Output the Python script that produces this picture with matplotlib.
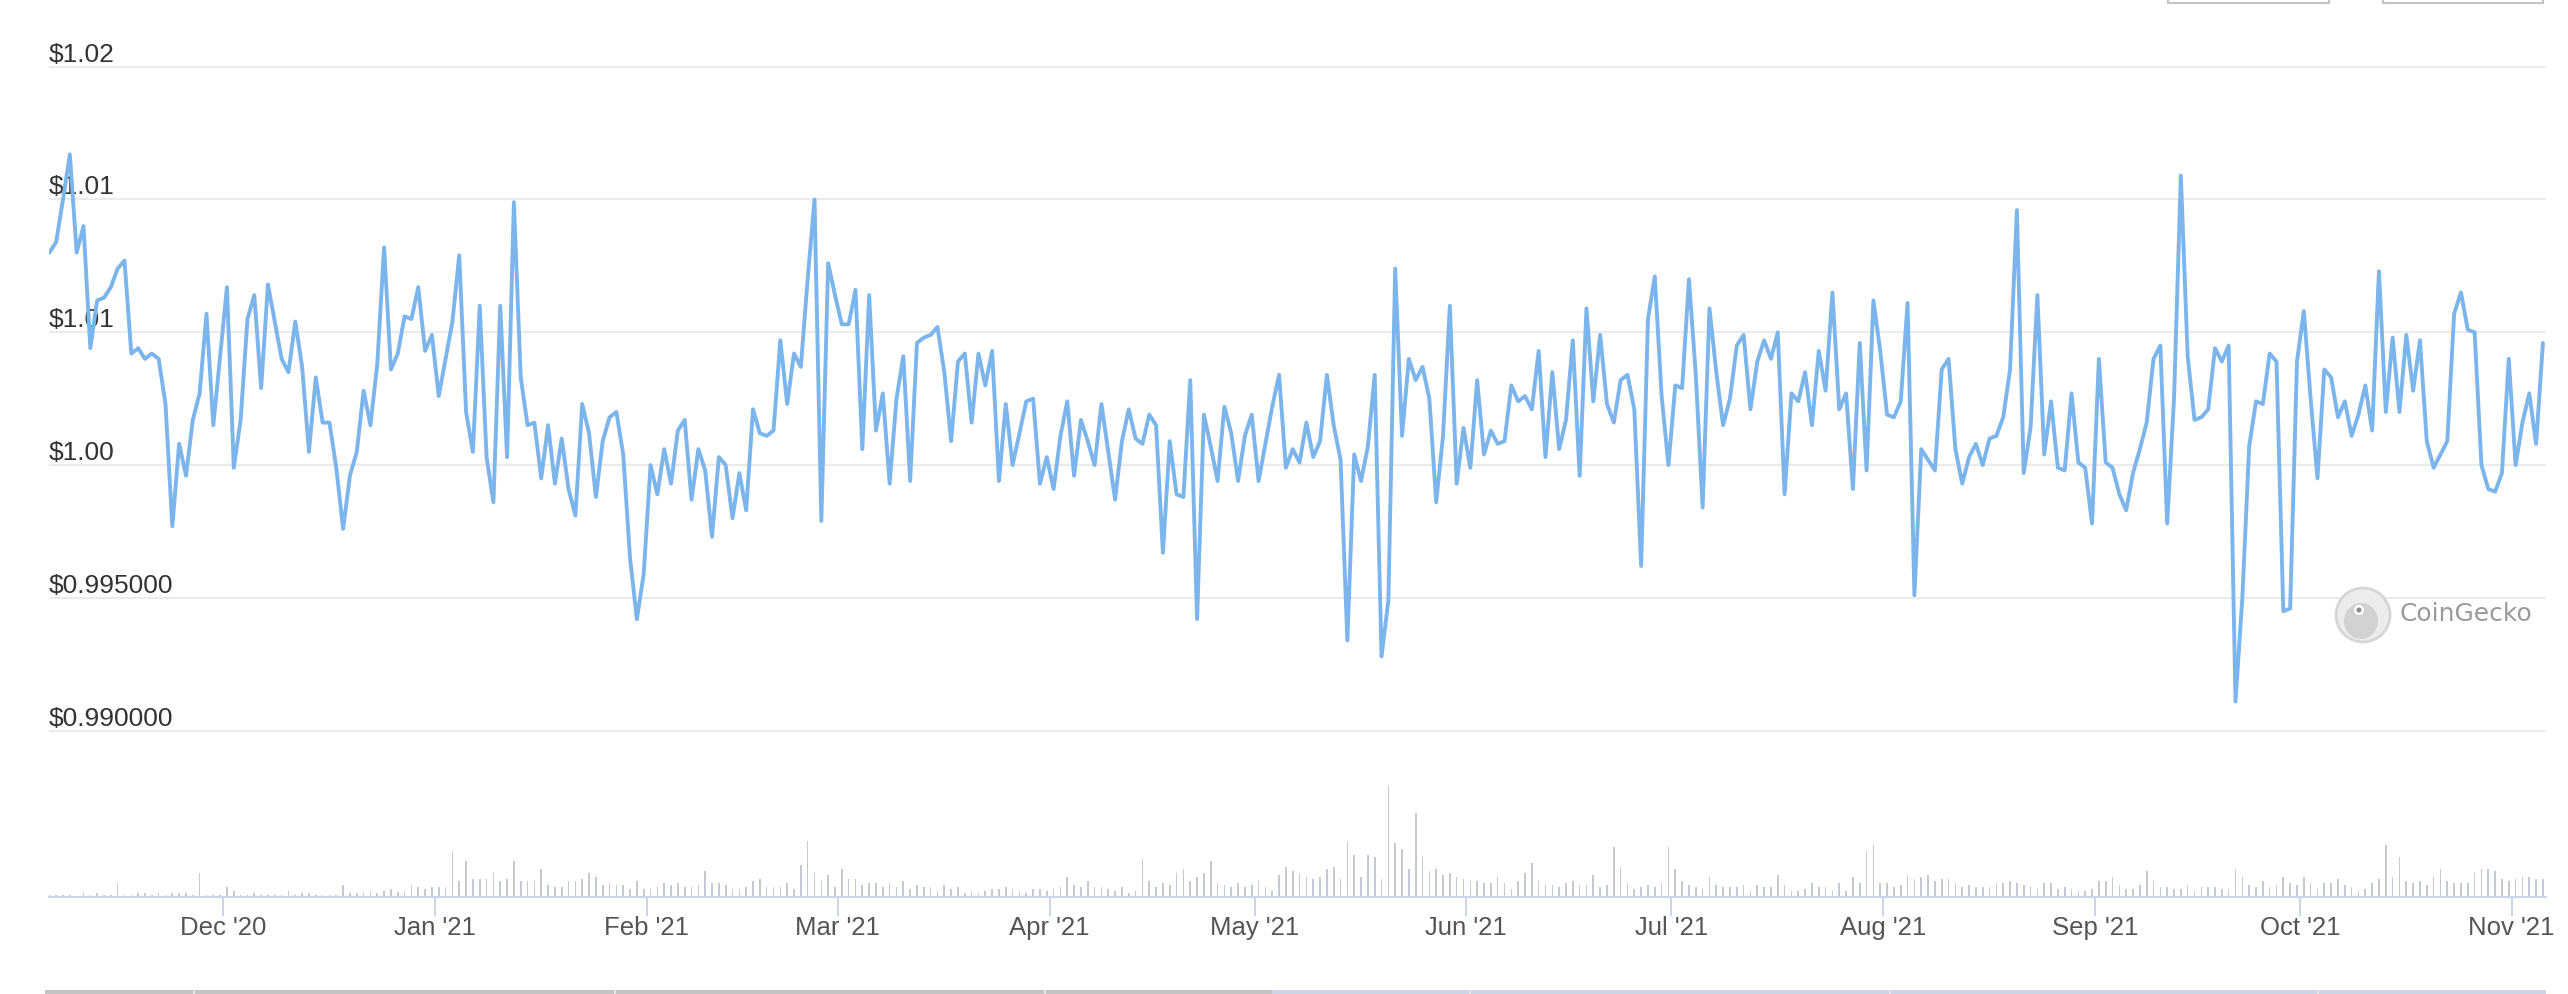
import matplotlib
matplotlib.use("Agg")
import matplotlib.pyplot as plt
import matplotlib.dates as mdates
import matplotlib.transforms as mtransforms
from matplotlib.patches import Rectangle, Circle, Ellipse
import pandas as pd

# ---------------- data ----------------
start_date = "2020-11-05 14:00"
n_days = 366

price = [
    1.0080, 1.0084, 1.0100, 1.0117, 1.0080, 1.0090, 1.0044, 1.0062, 1.0063, 1.0067,
    1.0074, 1.0077, 1.0042, 1.0044, 1.0040, 1.0042, 1.0040, 1.0023, 0.9977, 1.0008,
    0.9996, 1.0017, 1.0027, 1.0057, 1.0015, 1.0041, 1.0067, 0.9999, 1.0017, 1.0055,
    1.0064, 1.0029, 1.0068, 1.0054, 1.0040, 1.0035, 1.0054, 1.0037, 1.0005, 1.0033,
    1.0016, 1.0016, 0.9999, 0.9976, 0.9996, 1.0005, 1.0028, 1.0015, 1.0038, 1.0082,
    1.0036, 1.0042, 1.0056, 1.0055, 1.0067, 1.0043, 1.0049, 1.0026, 1.0040, 1.0054,
    1.0079, 1.0020,
    1.0005, 1.0060, 1.0003, 0.9986, 1.0060, 1.0003, 1.0099, 1.0033,
    1.0015, 1.0016, 0.9995, 1.0015, 0.9993, 1.0010, 0.9991, 0.9981, 1.0023, 1.0012,
    0.9988, 1.0009, 1.0018, 1.0020, 1.0004, 0.9965, 0.9942, 0.9959, 1.0000, 0.9989,
    1.0006, 0.9993, 1.0013, 1.0017, 0.9987, 1.0006, 0.9998, 0.9973, 1.0003, 1.0000,
    0.9980, 0.9997, 0.9983, 1.0021, 1.0012, 1.0011, 1.0013, 1.0047, 1.0023, 1.0042,
    1.0037, 1.0070, 1.0100, 0.9979, 1.0076, 1.0064, 1.0053, 1.0053, 1.0066, 1.0006,
    1.0064, 1.0013, 1.0027, 0.9993, 1.0025, 1.0041, 0.9994, 1.0046, 1.0048, 1.0049,
    1.0052, 1.0035, 1.0009, 1.0039, 1.0042, 1.0016, 1.0042, 1.0030, 1.0043, 0.9994,
    1.0023, 1.0000, 1.0012, 1.0024, 1.0025, 0.9993, 1.0003, 0.9991, 1.0011, 1.0024,
    0.9996, 1.0017, 1.0009, 1.0000, 1.0023, 1.0005, 0.9987, 1.0009, 1.0021, 1.0010,
    1.0008, 1.0019, 1.0015, 0.9967, 1.0009, 0.9989, 0.9988, 1.0032, 0.9942, 1.0019,
    1.0007, 0.9994, 1.0022, 1.0012, 0.9994, 1.0011, 1.0019, 0.9994, 1.0008, 1.0022,
    1.0034, 0.9999, 1.0006, 1.0001, 1.0016, 1.0003, 1.0009, 1.0034, 1.0015, 1.0002,
    0.9934, 1.0004, 0.9994, 1.0007, 1.0034, 0.9928, 0.9949, 1.0074, 1.0011, 1.0040,
    1.0032, 1.0037, 1.0025, 0.9986, 1.0011, 1.0060, 0.9993, 1.0014, 0.9999, 1.0032,
    1.0004, 1.0013, 1.0008, 1.0009, 1.0030, 1.0024, 1.0026, 1.0021, 1.0043, 1.0003,
    1.0035, 1.0006, 1.0017, 1.0047, 0.9996, 1.0059, 1.0024, 1.0049, 1.0023, 1.0016,
    1.0032, 1.0034, 1.0021, 0.9962, 1.0055, 1.0071, 1.0026, 1.0000, 1.0030, 1.0029,
    1.0070, 1.0034, 0.9984, 1.0059, 1.0035, 1.0015, 1.0025, 1.0045, 1.0049, 1.0021,
    1.0039, 1.0047, 1.0040, 1.0050, 0.9989, 1.0027, 1.0024, 1.0035, 1.0015, 1.0043,
    1.0028, 1.0065, 1.0021, 1.0027, 0.9991, 1.0046, 0.9998, 1.0062, 1.0043, 1.0019,
    1.0018, 1.0024, 1.0061, 0.9951, 1.0006, 1.0002, 0.9998, 1.0036, 1.0040, 1.0006,
    0.9993, 1.0003, 1.0008, 1.0000, 1.0010, 1.0011, 1.0018, 1.0036, 1.0096, 0.9997,
    1.0014, 1.0064, 1.0004, 1.0024, 0.9999, 0.9998, 1.0027, 1.0001, 0.9999, 0.9978,
    1.0040, 1.0001, 0.9999, 0.9989, 0.9983, 0.9997, 1.0006, 1.0016, 1.0040, 1.0045,
    0.9978, 1.0025, 1.0109, 1.0041, 1.0017, 1.0018, 1.0021, 1.0044, 1.0039, 1.0045,
    0.9911, 0.9950, 1.0007, 1.0024, 1.0023, 1.0042, 1.0039, 0.9945, 0.9946, 1.0039,
    1.0058, 1.0025, 0.9995, 1.0036, 1.0033, 1.0018, 1.0024, 1.0011, 1.0019, 1.0030,
    1.0013, 1.0073, 1.0020, 1.0048, 1.0020, 1.0049, 1.0028, 1.0047, 1.0009, 0.9999,
    1.0004, 1.0009, 1.0057, 1.0065, 1.0051, 1.0050, 1.0000, 0.9991, 0.9990, 0.9997,
    1.0040, 1.0000, 1.0016, 1.0027, 1.0008, 1.0046,
]

volume_m = [
    1.3, 1.3, 1.3, 1.3, 0.5, 3.3, 2.0, 3.3, 2.0, 1.7,
    13.3, 1.3, 2.0, 3.3, 3.3, 2.0, 3.3, 2.0, 3.3, 3.3,
    3.3, 1.3, 23.3, 1.3, 1.3, 1.3, 9.3, 5.3, 2.0, 1.3,
    3.3, 1.3, 1.3, 1.3, 1.3, 5.3, 1.3, 3.3, 3.3, 1.3,
    1.3, 1.3, 1.3, 11.3, 3.3, 3.3, 3.3, 5.3, 3.3, 6.0,
    7.3, 4.7, 6.0, 11.3, 10.0, 8.0, 9.3, 9.3, 9.3, 45.7,
    15.3, 35.5, 17.5, 17.5, 17.5, 23.3, 15.3, 17.5, 35.5, 15.3,
    15.3, 15.3, 27.3, 11.3, 9.3, 9.3, 15.3, 15.3, 17.5, 23.3,
    19.3, 11.3, 13.3, 11.3, 11.3, 7.3, 15.3, 7.3, 8.0, 9.3,
    13.3, 11.3, 13.3, 9.3, 9.3, 11.3, 25.3, 13.3, 13.3, 11.3,
    7.3, 7.3, 9.3, 15.3, 17.5, 9.3, 9.3, 9.3, 13.3, 7.3,
    31.3, 55.7, 23.3, 15.3, 21.3, 9.3, 27.3, 17.5, 17.5, 11.3,
    13.3, 13.3, 9.3, 13.3, 9.3,
    15.3, 7.3, 11.3, 10.0, 9.3, 5.3, 11.3, 7.3, 9.3, 3.3,
    5.3, 3.3, 6.0, 7.3, 8.0, 9.3, 8.0, 5.3, 3.3, 7.3,
    7.3, 5.3, 7.3, 9.3, 19.3, 11.3, 9.3, 15.3, 9.3, 9.3,
    7.3, 5.3, 9.3, 3.3, 5.3, 37.3, 15.3, 9.3, 13.3, 11.3,
    23.3, 27.3, 15.3, 19.3, 23.3, 35.3, 13.3, 11.3, 9.3, 13.3,
    9.3, 11.3, 15.3, 9.3, 5.3,
    21.3, 29.3, 25.3, 23.3, 19.3, 17.3, 19.3, 27.3, 29.3, 17.3,
    55.7, 41.3, 19.3, 41.3, 39.3, 17.3, 111.7, 53.3, 47.3, 27.3,
    83.7, 39.3, 25.3, 27.3, 21.3, 23.3, 19.3, 17.3, 15.3, 15.3,
    13.3, 13.3, 19.3, 13.3, 7.3, 15.3, 23.3, 33.3, 15.3, 11.3,
    11.3, 9.3, 13.3, 15.3, 11.3, 11.3, 21.3, 9.3, 11.3, 49.3,
    29.3, 13.3, 7.3, 9.3, 11.3, 9.3, 13.3, 49.3, 27.3, 15.3,
    11.3, 9.3, 7.3, 19.3, 11.3, 9.3, 9.3, 9.3, 11.3, 5.3,
    11.3, 9.3, 9.3, 21.3, 11.3, 5.3, 5.3, 7.3, 13.3, 9.3,
    9.3, 5.3, 13.3, 5.3, 19.3, 13.3, 45.7, 51.3, 13.3, 13.3,
    9.3, 11.3, 21.3, 17.3, 19.3, 21.3, 15.3, 17.3, 17.3, 13.3,
    9.3, 11.3, 9.3, 9.3, 9.3, 13.3, 13.3, 15.3, 13.3, 11.3,
    9.3, 7.3, 13.3, 13.3, 7.3, 9.3, 7.3, 5.3, 6.0, 7.3,
    15.3, 15.3, 19.3, 11.3, 7.3, 7.3, 11.3, 25.3, 15.3, 9.3,
    9.3, 7.3, 8.0, 11.3, 5.3, 9.3, 9.3, 9.3, 7.3, 7.3,
    27.3, 19.3, 11.3, 9.3, 15.3, 9.3, 11.3, 19.3, 13.3, 11.3,
    19.3, 13.3, 7.3, 13.3, 13.3, 17.3, 11.3, 9.3, 5.3, 7.3,
    13.3, 17.3, 51.3, 19.3, 39.3, 15.3, 13.3, 15.3, 11.3, 19.3,
    27.3, 15.3, 13.3, 13.3, 13.3, 23.3, 27.3, 27.3, 25.3, 17.3,
    15.3, 17.3, 19.3, 19.3, 17.3, 17.3,
]

ytick_values = [1.015, 1.010, 1.005, 1.000, 0.995, 0.990]
ytick_labels = ["$1.02", "$1.01", "$1.01", "$1.00", "$0.995000", "$0.990000"]

xtick_dates = ["2020-12-01", "2021-01-01", "2021-02-01", "2021-03-01", "2021-04-01",
               "2021-05-01", "2021-06-01", "2021-07-01", "2021-08-01", "2021-09-01",
               "2021-10-01", "2021-11-01"]
xtick_labels = ["Dec '20", "Jan '21", "Feb '21", "Mar '21", "Apr '21", "May '21",
                "Jun '21", "Jul '21", "Aug '21", "Sep '21", "Oct '21", "Nov '21"]

# ---------------- figure ----------------
plt.rcParams['font.family'] = ['Liberation Sans', 'DejaVu Sans']
W, H = 2568, 994
fig = plt.figure(figsize=(W / 100, H / 100), dpi=100)
fig.patch.set_facecolor("white")


def rect(x0, y0, x1, y1):
    return [x0 / W, 1 - y1 / H, (x1 - x0) / W, (y1 - y0) / H]


dates = pd.date_range(start_date, periods=n_days, freq="D")
x0 = mdates.date2num(dates[0])

PX_PER_UNIT = 132.8 / 0.005
ax = fig.add_axes(rect(49, 40, 2546, 760))
axv = fig.add_axes(rect(49, 760, 2546, 896.7))

for a in (ax, axv):
    a.set_xlim(x0 - 0.05, x0 + 365.45)
    a.set_facecolor("none")

ax.set_ylim(0.990 - (760 - 730.7) / PX_PER_UNIT, 1.015 + (66.7 - 40) / PX_PER_UNIT)
ax.axis("off")

for v in ytick_values:
    ax.axhline(v, color="#ebebeb", lw=1.5, zorder=0)

lbl_tr = mtransforms.offset_copy(
    mtransforms.blended_transform_factory(ax.transAxes, ax.transData),
    fig=fig, x=0, y=5, units="dots")
for v, s in zip(ytick_values, ytick_labels):
    ax.text(0, v, s, transform=lbl_tr, ha="left", va="baseline",
            fontsize=19, color="#333333")

ax.plot(dates, price, color="#7cb5ec", lw=2.8, solid_joinstyle="round",
        solid_capstyle="round", zorder=3)

# volume
axv.bar(dates, volume_m, width=0.24, color="#c6c9d2", align="center", zorder=2)
axv.set_ylim(0, 136.7)
for s in ("top", "left", "right"):
    axv.spines[s].set_visible(False)
axv.spines["bottom"].set_color("#ccd6eb")
axv.spines["bottom"].set_linewidth(1.5)
axv.spines["bottom"].set_zorder(3)
axv.set_yticks([])
axv.set_xticks([mdates.date2num(pd.Timestamp(d)) for d in xtick_dates])
axv.set_xticklabels(xtick_labels)
axv.tick_params(axis="x", direction="out", length=13.7, width=1.44,
                color="#ccd6eb", labelsize=18.5, labelcolor="#555555", pad=0)

# navigator strip at the bottom
ident = mtransforms.IdentityTransform()
fig.add_artist(Rectangle((45, 0), 1272 - 45, 4.5, transform=ident,
                         facecolor="#c4c4c4", edgecolor="none"))
fig.add_artist(Rectangle((1272, 0), 2546 - 1272, 4.5, transform=ident,
                         facecolor="#cdd5e6", edgecolor="none"))
for xm in (193.6, 615, 1045, 1470, 1890, 2318):
    fig.add_artist(Rectangle((xm - 1, 0), 2, 4.5, transform=ident,
                             facecolor="#e4e4e4", edgecolor="none"))

# range buttons at top-right (only their bottom is visible)
for bx0, bx1 in ((2168, 2329), (2383, 2543)):
    fig.add_artist(Rectangle((bx0, H - 3.3), bx1 - bx0, 30, transform=ident,
                             facecolor="white", edgecolor="#c4c4c4", lw=1.5))

# CoinGecko watermark
cx, cy = 2363, H - 615
fig.add_artist(Circle((cx, cy), 27, transform=ident, facecolor="#ececec",
                      edgecolor="#d6d6d6", lw=2))
fig.add_artist(Ellipse((cx - 2, cy - 6), 34, 36, transform=ident,
                       facecolor="#d2d2d2", edgecolor="none"))
fig.add_artist(Circle((cx - 4, cy + 5), 5, transform=ident,
                      facecolor="white", edgecolor="none"))
fig.add_artist(Circle((cx - 4, cy + 5), 2.5, transform=ident,
                      facecolor="#8a8a8a", edgecolor="none"))
fig.text(2400 / W, 1 - 614 / H, "CoinGecko", ha="left", va="center",
         fontsize=18, color="#9a9a9a", family="DejaVu Sans")

fig.savefig("out.png", dpi=100, facecolor="white")
